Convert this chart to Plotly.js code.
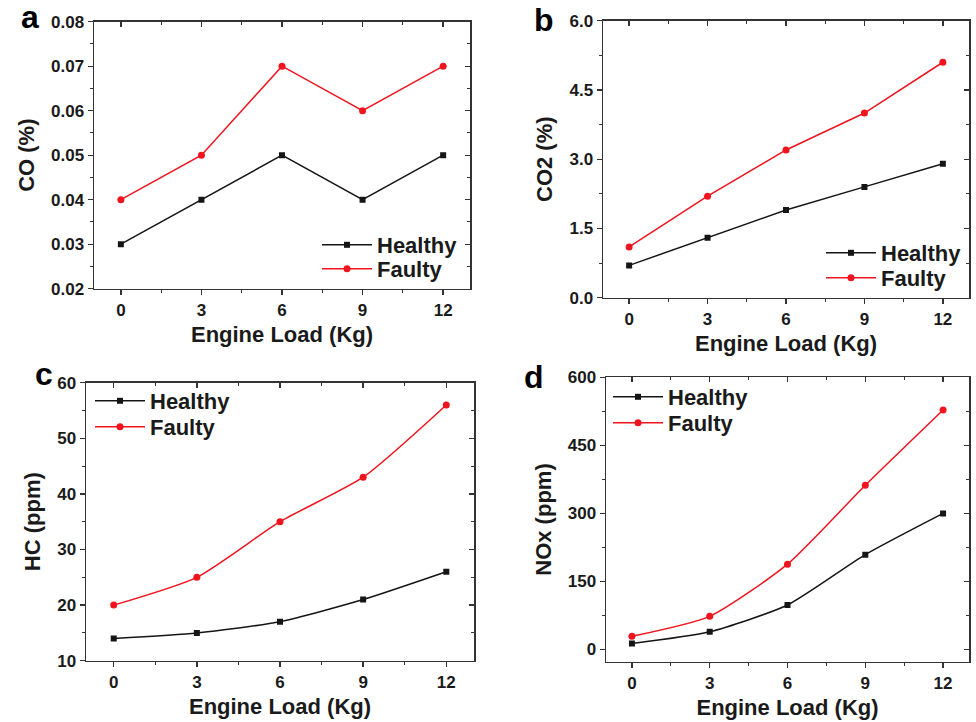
<!DOCTYPE html>
<html>
<head>
<meta charset="utf-8">
<script src="https://cdn.plot.ly/plotly-3.0.1.min.js"></script>
<style>html,body{margin:0;padding:0;background:#fff;}#chart{width:976px;height:722px;}</style>
</head>
<body>
<div id="chart"></div>
<script>
// ---- data ----
const loads = [0, 3, 6, 9, 12];
const xTicks = [0, 3, 6, 9, 12];
const seriesNames = ['Healthy', 'Faulty'];

const coHealthy = [0.03, 0.04, 0.05, 0.04, 0.05];
const coFaulty  = [0.04, 0.05, 0.07, 0.06, 0.07];

const co2Healthy = [0.7, 1.3, 1.9, 2.4, 2.9];
const co2Faulty  = [1.1, 2.2, 3.2, 4.0, 5.1];

const hcHealthy = [14, 15, 17, 21, 26];
const hcFaulty  = [20, 25, 35, 43, 56];

const noxHealthy = [13, 39, 98, 209, 300];
const noxFaulty  = [29, 73, 188, 362, 528];

const yTitles = ['CO (%)', 'CO2 (%)', 'HC (ppm)', 'NOx (ppm)'];
const xTitle = 'Engine Load (Kg)';
const panelLetters = ['a', 'b', 'c', 'd'];

// ---- styling ----
const FONT = 'Liberation Sans, Arial, sans-serif';
const W = 976, H = 722;
const AXIS_COLOR = '#333333';
const TEXT_COLOR = '#1a1a1a';
const RED = '#f0141e';
const BLACK = '#151515';

function px2x(p) { return p / W; }
function py2y(p) { return 1 - p / H; }

const panels = [
  {h: coHealthy,  f: coFaulty,  box: [94, 470, 21.7, 288.7],  yr: [0.02, 0.08], ydt: 0.01, ymin: 0.005, fmt: '.2f', shape: 'linear',
   leg: [317, 245, 269], letter: [30, 17]},
  {h: co2Healthy, f: co2Faulty, box: [603, 969, 20.7, 297.7], yr: [0, 6],       ydt: 1.5,  ymin: 0.75,  fmt: '.1f', shape: 'linear',
   leg: [821, 253, 278], letter: [544, 20]},
  {h: hcHealthy,  f: hcFaulty,  box: [86, 474, 382.7, 660.7], yr: [10, 60],     ydt: 10,   ymin: 5,     fmt: 'd',   shape: 'spline',
   leg: [90, 401, 427], letter: [44, 374]},
  {h: noxHealthy, f: noxFaulty, box: [606, 969, 377.3, 661.7], yr: [-27, 600],  ydt: 150,  ymin: 75,    fmt: 'd',   shape: 'spline',
   leg: [608, 397, 423], letter: [534, 377]}
];

const traces = [];
const layout = {
  width: W, height: H,
  margin: {l: 0, r: 0, t: 0, b: 0},
  paper_bgcolor: '#ffffff', plot_bgcolor: '#ffffff',
  font: {family: FONT, color: TEXT_COLOR},
  annotations: [],
  showlegend: true
};

function legendName(k) { return k === 1 ? 'legend' : 'legend' + k; }
function legendDef(x, y) {
  return {
    x: px2x(x), y: py2y(y), xanchor: 'left', yanchor: 'middle',
    bgcolor: 'rgba(0,0,0,0)', borderwidth: 0, itemwidth: 50,
    font: {family: FONT, size: 22, color: TEXT_COLOR, weight: 'bold'}
  };
}

panels.forEach((p, i) => {
  const n = i + 1;
  const xa = 'x' + n, ya = 'y' + n;
  const lh = legendName(2 * i + 1), lf = legendName(2 * i + 2);
  traces.push({
    x: loads, y: p.h, name: seriesNames[0], type: 'scatter', mode: 'lines+markers',
    xaxis: xa, yaxis: ya, legend: lh,
    line: {color: BLACK, width: 1.5, shape: p.shape, smoothing: 0.6},
    marker: {symbol: 'square', size: 6, color: BLACK}
  });
  traces.push({
    x: loads, y: p.f, name: seriesNames[1], type: 'scatter', mode: 'lines+markers',
    xaxis: xa, yaxis: ya, legend: lf,
    line: {color: RED, width: 1.5, shape: p.shape, smoothing: 0.6},
    marker: {symbol: 'circle', size: 7, color: RED}
  });
  // invisible trace for top/right mirror axes
  traces.push({
    x: loads, y: p.h, type: 'scatter', mode: 'none', showlegend: false, hoverinfo: 'skip',
    xaxis: 'x' + (n + 4), yaxis: 'y' + (n + 4)
  });

  const xd = [px2x(p.box[0]), px2x(p.box[1])];
  const yd = [py2y(p.box[3]), py2y(p.box[2])];

  layout['xaxis' + n] = {
    domain: xd, anchor: ya, range: [-1, 13],
    tickvals: xTicks, ticks: 'outside', ticklen: 5, tickwidth: 1.3, tickcolor: AXIS_COLOR,
    minor: {dtick: 1.5, tick0: 0, ticks: 'outside', ticklen: 3, tickwidth: 1, tickcolor: AXIS_COLOR},
    showline: true, linecolor: AXIS_COLOR, linewidth: 1.5, mirror: true,
    showgrid: false, zeroline: false,
    tickfont: {family: FONT, size: 17, color: TEXT_COLOR, weight: 'bold'},
    title: {text: '<b>' + xTitle + '</b>', font: {family: FONT, size: 22, color: TEXT_COLOR}, standoff: 8}
  };
  layout['yaxis' + n] = {
    domain: yd, anchor: xa, range: p.yr,
    tick0: p.yr[0] < 0 ? 0 : p.yr[0], dtick: p.ydt, tickformat: p.fmt,
    ticks: 'outside', ticklen: 5, tickwidth: 1.3, tickcolor: AXIS_COLOR,
    minor: {dtick: p.ymin, ticks: 'outside', ticklen: 3, tickwidth: 1, tickcolor: AXIS_COLOR},
    showline: true, linecolor: AXIS_COLOR, linewidth: 1.5, mirror: true,
    showgrid: false, zeroline: false,
    tickfont: {family: FONT, size: 17, color: TEXT_COLOR, weight: 'bold'},
    title: {text: '<b>' + yTitles[i] + '</b>', font: {family: FONT, size: 22, color: TEXT_COLOR}, standoff: 10}
  };
  // mirror axes on top/right with inward ticks
  layout['xaxis' + (n + 4)] = {
    overlaying: xa, anchor: ya, side: 'top', range: [-1, 13],
    tickvals: xTicks, ticks: 'inside', ticklen: 5, tickwidth: 1.3, tickcolor: AXIS_COLOR,
    minor: {dtick: 1.5, tick0: 0, ticks: 'inside', ticklen: 3, tickwidth: 1, tickcolor: AXIS_COLOR},
    showticklabels: false, showgrid: false, zeroline: false, showline: false
  };
  layout['yaxis' + (n + 4)] = {
    overlaying: ya, anchor: xa, side: 'right', range: p.yr,
    tick0: p.yr[0] < 0 ? 0 : p.yr[0], dtick: p.ydt,
    ticks: 'inside', ticklen: 5, tickwidth: 1.3, tickcolor: AXIS_COLOR,
    minor: {dtick: p.ymin, ticks: 'inside', ticklen: 3, tickwidth: 1, tickcolor: AXIS_COLOR},
    showticklabels: false, showgrid: false, zeroline: false, showline: false
  };
  layout[lh] = legendDef(p.leg[0], p.leg[1]);
  layout[lf] = legendDef(p.leg[0], p.leg[2]);
  layout.annotations.push({
    text: '<b>' + panelLetters[i] + '</b>', xref: 'paper', yref: 'paper',
    x: px2x(p.letter[0]), y: py2y(p.letter[1]), xanchor: 'center', yanchor: 'middle',
    showarrow: false, font: {family: FONT, size: 32, color: '#000000'}
  });
});

Plotly.newPlot('chart', traces, layout, {displayModeBar: false, staticPlot: true});
</script>
</body>
</html>
